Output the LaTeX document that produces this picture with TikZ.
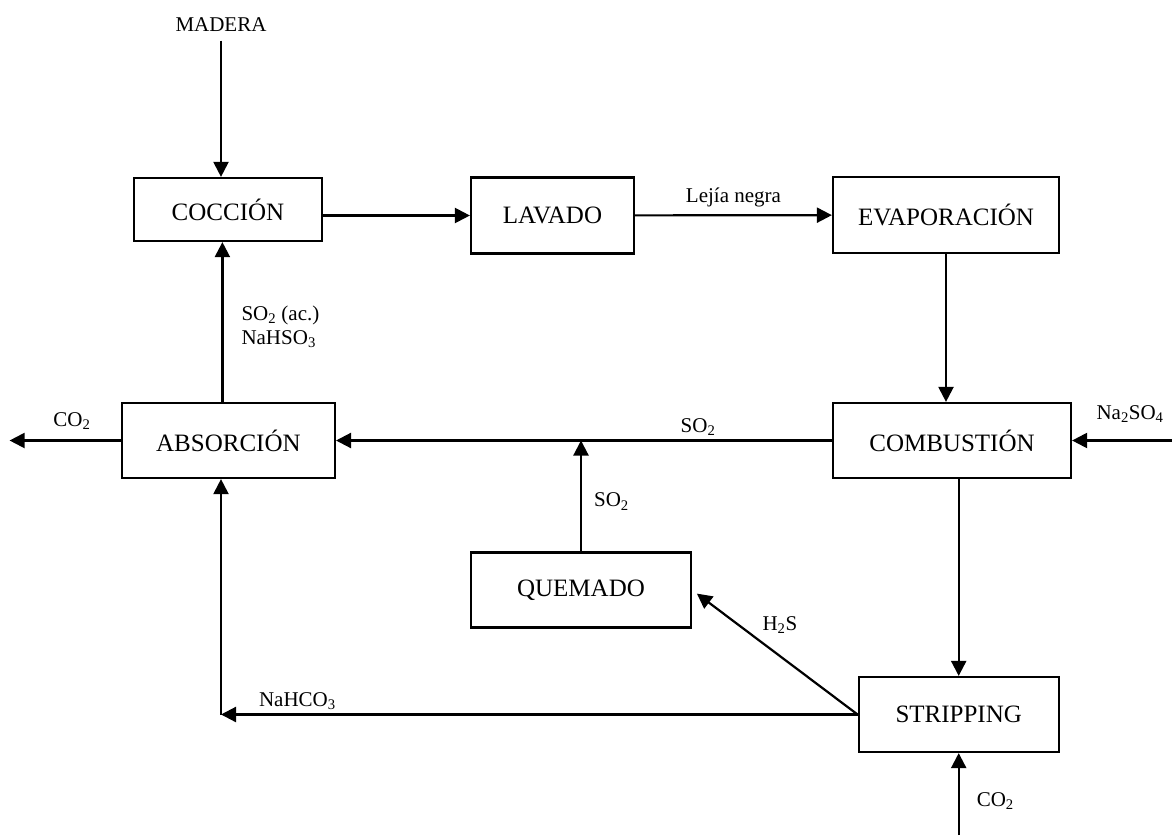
\documentclass[tikz,border=0pt]{standalone}
\usepackage{fontspec}
\setmainfont{Liberation Serif}
\usetikzlibrary{arrows.meta}

\begin{document}
\begin{tikzpicture}[->,>={Triangle[length=15pt,width=15pt]},x=1pt,y=-1pt,
                    line width=2.2pt]
  \tikzstyle{proc}=[draw,->,minimum height=75pt,inner sep=0pt,
                    font=\fontsize{25}{30}\selectfont]
  \tikzstyle{lbl}=[inner sep=0pt,font=\fontsize{21}{24}\selectfont]
  \useasboundingbox (0,0) rectangle (1172,835);

  \node[proc,minimum width=188pt,minimum height=63pt] (coc) at (228,209.5) {COCCIÓN};
  \node[proc,minimum width=163pt,minimum height=76pt] (lav) at (552.5,215.5) {LAVADO};
  \node[proc,minimum width=226pt,minimum height=76pt] (eva) at (946,215) {EVAPORACIÓN};
  \node[proc,minimum width=238pt] (com) at (952,440.5) {COMBUSTIÓN};
  \node[proc,minimum width=213pt] (abs) at (228.4,440.5) {ABSORCIÓN};
  \node[proc,minimum width=220pt] (que) at (581,590) {QUEMADO};
  \node[proc,minimum width=200pt] (str) at (958.7,714.5) {STRIPPING};

  \node[lbl] (mad) at (221,24.5) {MADERA};
  \coordinate (naso) at (1172,440.5);
  \coordinate (co2out) at (9.6,440.5);
  \coordinate (co2in) at (958.7,835);
  \coordinate (bend) at (221,714.5);

  \draw[shorten <=8pt] (mad.south) -- (mad.south |- coc.north);
  \draw (coc.east |- lav) -- (lav.west);
  \draw (lav) -- node[lbl,above=7pt] {Lejía negra} (eva);
  \draw (eva.south) -- (eva.south |- com.north);
  \draw (naso) -- node[lbl,pos=0.42,above=17pt] {Na\textsubscript{2}SO\textsubscript{4}} (com.east);
  \draw (com.west) -- node[lbl,pos=0.27,above=4pt] {SO\textsubscript{2}} (abs.east);
  \draw (que.north) -- node[lbl,pos=0.45,right=12pt] {SO\textsubscript{2}} (que.north |- com.west);
  \draw ([xshift=-6pt]abs.north) -- node[lbl,pos=0.47,right=18pt,align=left]
        {SO\textsubscript{2} (ac.)\\NaHSO\textsubscript{3}} ([xshift=-6pt]abs.north |- coc.south);
  \draw (abs.west) -- node[lbl,pos=0.44,above=10pt] {CO\textsubscript{2}} (co2out);
  \draw (str.north |- com.south) -- (str.north);
  \draw (co2in) -- node[lbl,pos=0.42,right=17pt] {CO\textsubscript{2}} (str.south);
  \draw[shorten >=6pt] (str.west) -- node[lbl,pos=0.56,xshift=15pt,yshift=20pt] {H\textsubscript{2}S} (que.east);
  \draw (str.west) -- node[lbl,pos=0.88,above=4pt] {NaHCO\textsubscript{3}} (bend);
  \draw (bend) -- (bend |- abs.south);
\end{tikzpicture}
\end{document}
